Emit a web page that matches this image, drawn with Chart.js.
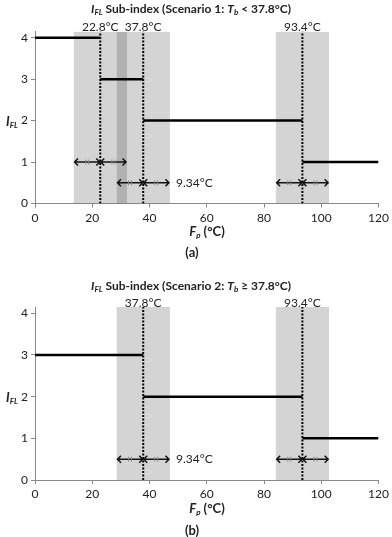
<!DOCTYPE html>
<html>
<head>
<meta charset="utf-8">
<script src="https://cdn.jsdelivr.net/npm/chart.js@4"></script>
<style>
  body { margin: 0; background: #fff; font-family: Lato, "Open Sans", sans-serif; color: #222; }
  #wrap { position: relative; width: 392px; height: 537px; }
  .panel { position: absolute; left: 0; width: 392px; height: 268px; }
  .txt { position: absolute; white-space: nowrap; transform: translate(-50%, -50%); font-weight: bold; }
  .title { font-size: 12px; }
  .xlab { font-size: 13px; }
  .ylab { font-size: 13px; }
  .cap { font-size: 13px; }
  sub { font-size: 8px; vertical-align: -2px; }
</style>
</head>
<body>
<div id="wrap">
  <div class="panel" style="top:0"><canvas id="c1"></canvas></div>
  <div class="panel" style="top:268px"><canvas id="c2"></canvas></div>

  <div class="txt title" style="left:191px; top:9px"><i>I<sub>FL</sub></i> Sub-index (Scenario 1: <i>T<sub>b</sub></i> &lt; 37.8°C)</div>
  <div class="txt ylab" style="left:12px; top:121px"><i>I<sub>FL</sub></i></div>
  <div class="txt xlab" style="left:207px; top:231px"><i>F<sub>p</sub></i> (°C)</div>
  <div class="txt cap" style="left:192px; top:252px">(a)</div>

  <div class="txt title" style="left:191px; top:286px"><i>I<sub>FL</sub></i> Sub-index (Scenario 2: <i>T<sub>b</sub></i> ≥ 37.8°C)</div>
  <div class="txt ylab" style="left:12px; top:397px"><i>I<sub>FL</sub></i></div>
  <div class="txt xlab" style="left:207px; top:508px"><i>F<sub>p</sub></i> (°C)</div>
  <div class="txt cap" style="left:192px; top:530px">(b)</div>
</div>
<script>
// data
const tolerance = 9.34;
const bandTop = 4.15;
const xTicks = [0, 20, 40, 60, 80, 100, 120];
const yTicks = [0, 1, 2, 3, 4];

// scenario 1
const breaks1 = [0, 22.8, 37.8, 93.4, 120];
const levels1 = [4, 3, 2, 1];
const thresholds1 = [22.8, 37.8, 93.4];
const arrowY1 = [1, 0.5, 0.5];

// scenario 2
const breaks2 = [0, 37.8, 93.4, 120];
const levels2 = [3, 2, 1];
const thresholds2 = [37.8, 93.4];
const arrowY2 = [0.5, 0.5];

Chart.defaults.font.family = 'Lato, "Open Sans", sans-serif';
Chart.defaults.color = '#222';

function buildDatasets(breaks, levels, thresholds) {
  const ds = [];
  thresholds.forEach(t => {
    ds.push({
      data: [{ x: t - tolerance, y: bandTop }, { x: t + tolerance, y: bandTop }],
      fill: 'origin',
      backgroundColor: 'rgba(0,0,0,0.17)',
      borderWidth: 0,
      pointRadius: 0,
      order: 3
    });
  });
  thresholds.forEach(t => {
    ds.push({
      data: [{ x: t, y: 0 }, { x: t, y: bandTop }],
      borderColor: '#000',
      borderWidth: 2,
      borderDash: [2, 1.5],
      pointRadius: 0,
      order: 2
    });
  });
  levels.forEach((lv, i) => {
    ds.push({
      data: [{ x: breaks[i], y: lv }, { x: breaks[i + 1], y: lv }],
      borderColor: '#000',
      borderWidth: 2.5,
      pointRadius: 0,
      order: 1
    });
  });
  return ds;
}

function drawArrow(ctx, x1, x2, y) {
  const h = 3.5;
  ctx.strokeStyle = '#111';
  ctx.lineWidth = 1.5;
  ctx.beginPath();
  ctx.moveTo(x1, y); ctx.lineTo(x2, y);
  ctx.moveTo(x1 + h, y - h); ctx.lineTo(x1, y); ctx.lineTo(x1 + h, y + h);
  ctx.moveTo(x2 - h, y - h); ctx.lineTo(x2, y); ctx.lineTo(x2 - h, y + h);
  ctx.stroke();
  const m = (x1 + x2) / 2;
  ctx.strokeStyle = '#888';
  ctx.lineWidth = 1;
  ctx.beginPath();
  ctx.moveTo(m - 1.5, y - 2.5); ctx.lineTo(m - 1.5, y + 2.5);
  ctx.moveTo(m + 1.5, y - 2.5); ctx.lineTo(m + 1.5, y + 2.5);
  ctx.stroke();
}

const annotate = {
  id: 'annotate',
  afterDatasetsDraw(chart, args, opts) {
    const { ctx, chartArea } = chart;
    const xs = chart.scales.x, ys = chart.scales.y;
    ctx.save();
    ctx.font = '12px Lato, "Open Sans", sans-serif';
    ctx.fillStyle = '#222';
    ctx.textAlign = 'center';
    ctx.textBaseline = 'middle';
    opts.thresholds.forEach(t => {
      ctx.fillText(t.toFixed(1) + '°C', xs.getPixelForValue(t), chartArea.top - 4);
    });
    opts.thresholds.forEach((t, i) => {
      const y = ys.getPixelForValue(opts.arrowY[i]);
      const xc = xs.getPixelForValue(t);
      drawArrow(ctx, xs.getPixelForValue(t - tolerance) + 1, xc - 0.5, y);
      drawArrow(ctx, xc + 0.5, xs.getPixelForValue(t + tolerance) - 1, y);
    });
    const ref = opts.thresholds[opts.labelAt];
    ctx.textAlign = 'left';
    ctx.fillText(tolerance + '°C', xs.getPixelForValue(ref + tolerance) + 6,
      ys.getPixelForValue(opts.arrowY[opts.labelAt]));
    ctx.restore();
  }
};

function makeChart(id, breaks, levels, thresholds, arrowY, labelAt, padTop, padBottom) {
  return new Chart(document.getElementById(id), {
    type: 'line',
    data: { datasets: buildDatasets(breaks, levels, thresholds) },
    plugins: [annotate],
    options: {
      responsive: false,
      animation: false,
      layout: { padding: { left: 0, right: 12, top: padTop, bottom: padBottom } },
      plugins: {
        legend: { display: false },
        tooltip: { enabled: false },
        annotate: { thresholds, arrowY, labelAt }
      },
      scales: {
        x: {
          type: 'linear',
          min: 0, max: 120,
          afterBuildTicks: s => { s.ticks = xTicks.map(v => ({ value: v })); },
          afterFit: s => { s.height = 30; },
          border: { color: '#888', width: 1 },
          grid: { drawOnChartArea: false, drawTicks: true, tickLength: 4, color: '#888' },
          ticks: { font: { size: 12 }, padding: 3, maxRotation: 0 }
        },
        y: {
          type: 'linear',
          min: 0, max: bandTop,
          afterBuildTicks: s => { s.ticks = yTicks.map(v => ({ value: v })); },
          afterFit: s => { s.width = 35; },
          border: { color: '#888', width: 1 },
          grid: { drawOnChartArea: false, drawTicks: true, tickLength: 4, color: '#888' },
          ticks: { font: { size: 12 }, padding: 3 }
        }
      }
    }
  });
}

['c1', 'c2'].forEach(id => {
  const c = document.getElementById(id);
  c.width = 392; c.height = 268;
  c.style.width = '392px'; c.style.height = '268px';
});

makeChart('c1', breaks1, levels1, thresholds1, arrowY1, 1, 31.5, 34.5);
makeChart('c2', breaks2, levels2, thresholds2, arrowY2, 0, 39, 26);
</script>
</body>
</html>
